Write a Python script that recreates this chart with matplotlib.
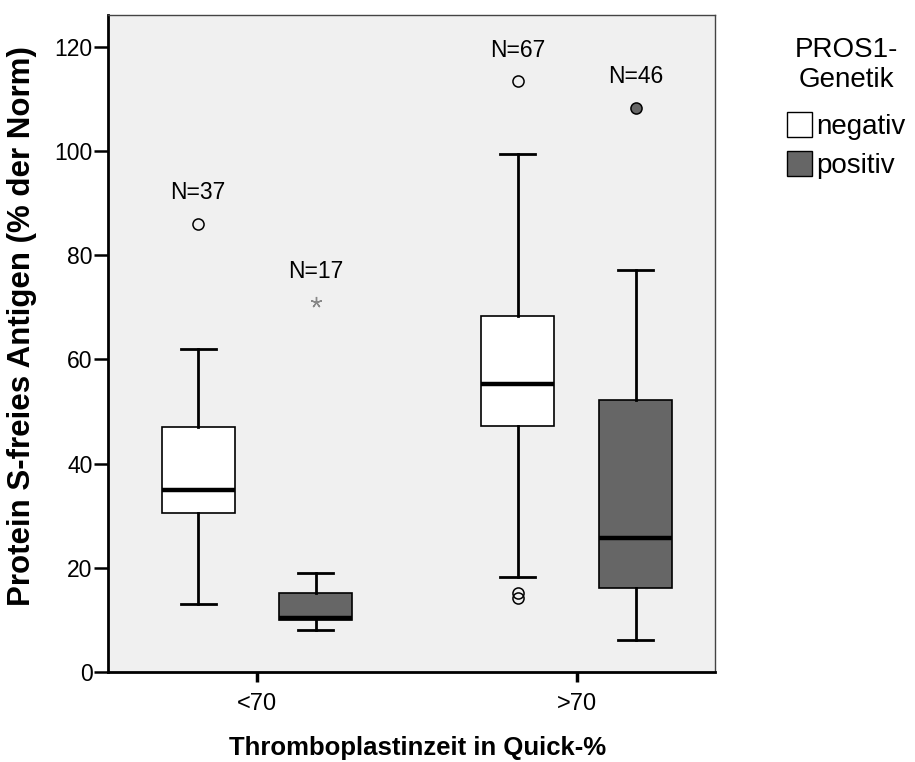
import numpy as np
import matplotlib
matplotlib.use("Agg")
from matplotlib import pyplot as plt
from matplotlib.patches import Patch

plt.rcParams['font.family'] = ['Liberation Sans', 'DejaVu Sans']

# data
groups = ['<70', '>70']
series = ['negativ', 'positiv']
colors = ['white', '#666666']

neg_med = [35.0, 55.3]
neg_q1 = [30.5, 47.2]
neg_q3 = [47.1, 68.3]
neg_wlo = [13.0, 18.2]
neg_whi = [62.0, 99.3]
neg_out = [[86.0], [113.3, 15.2, 14.2]]
neg_ext = [[], []]
neg_n = [37, 67]

pos_med = [10.4, 25.7]
pos_q1 = [9.9, 16.1]
pos_q3 = [15.1, 52.2]
pos_wlo = [8.0, 6.1]
pos_whi = [19.0, 77.2]
pos_out = [[], [108.3]]
pos_ext = [[70.9], []]
pos_n = [17, 46]

all_series = [
    (neg_med, neg_q1, neg_q3, neg_wlo, neg_whi, neg_out, neg_ext, neg_n),
    (pos_med, pos_q1, pos_q3, pos_wlo, pos_whi, pos_out, pos_ext, pos_n),
]

fig = plt.figure(figsize=(9.15, 7.62), dpi=100)
ax = fig.add_axes([0.118, 0.118, 0.663, 0.862])
ax.set_facecolor('#f0f0f0')

off = 0.184
width = 0.228
for s, (med, q1, q3, wlo, whi, out, ext, n) in enumerate(all_series):
    for g in range(len(groups)):
        pos = g + (-off if s == 0 else off)
        stats = [dict(med=med[g], q1=q1[g], q3=q3[g], whislo=wlo[g], whishi=whi[g], fliers=[])]
        ax.bxp(stats, positions=[pos], widths=width, patch_artist=True,
               showfliers=False, manage_ticks=False,
               boxprops=dict(facecolor=colors[s], edgecolor='black', linewidth=1.2),
               medianprops=dict(color='black', linewidth=3.2),
               whiskerprops=dict(color='black', linewidth=2),
               capprops=dict(color='black', linewidth=2),
               capwidths=width * 0.48)
        if out[g]:
            ax.plot([pos] * len(out[g]), out[g], 'o', ms=8,
                    mfc='none' if s == 0 else '#666666', mec='black', mew=1.1)
        if ext[g]:
            ax.plot([pos] * len(ext[g]), ext[g], marker=(5, 2, 0), ls='none',
                    ms=8, color='#888888', mew=1.0)
        top = max([whi[g]] + out[g] + ext[g])
        ax.text(pos, top + 6, 'N=%d' % n[g], ha='center', va='center', fontsize=16.5)

ax.set_xlim(-0.466, 1.431)
ax.set_ylim(0, 126)
ax.set_xticks(range(len(groups)))
ax.set_xticklabels(groups, fontsize=17)
ax.set_yticks(np.arange(0, 121, 20))
ax.tick_params(axis='y', labelsize=16.5, length=10, width=1.8, direction='out', pad=1)
ax.tick_params(axis='x', length=7, width=2.5, direction='out', pad=8)
for side in ['left', 'bottom']:
    ax.spines[side].set_linewidth(2)
for side in ['top', 'right']:
    ax.spines[side].set_linewidth(1)
    ax.spines[side].set_color('#444444')

ax.set_ylabel('Protein S-freies Antigen (% der Norm)', fontsize=22.5, fontweight='bold', va='center')
ax.yaxis.set_label_coords(-0.142, 0.527)
ax.set_xlabel('Thromboplastinzeit in Quick-%', fontsize=18.5, fontweight='bold', va='center')
ax.xaxis.set_label_coords(0.511, -0.116)

handles = [Patch(facecolor=c, edgecolor='black', linewidth=1) for c in colors]
leg = fig.legend(handles, series, title='PROS1-\nGenetik', loc='upper left',
                 bbox_to_anchor=(0.86, 0.952), frameon=False, fontsize=20,
                 title_fontsize=20, handlelength=0.9, handleheight=1.0,
                 handletextpad=0.15, labelspacing=0.4, borderpad=0, borderaxespad=0)
leg.get_title().set_multialignment('center')
leg._legend_box.sep = 14

fig.savefig('out.png', dpi=100)
